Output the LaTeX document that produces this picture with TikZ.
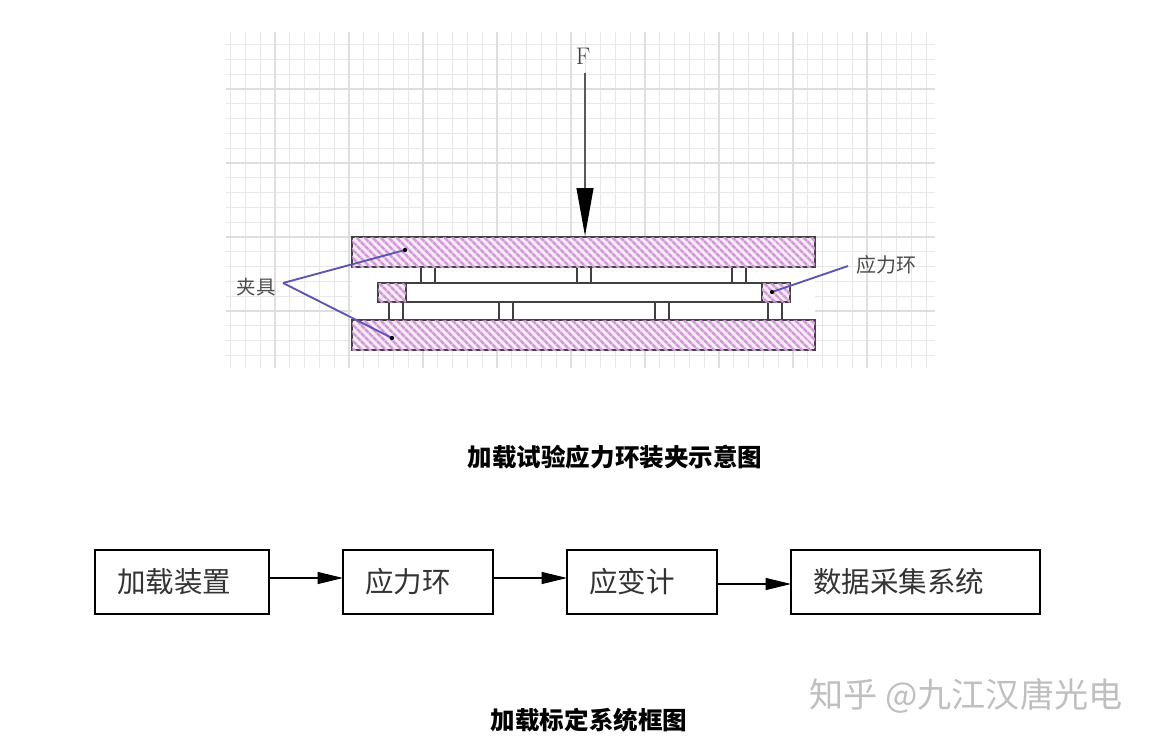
\documentclass[tikz,border=0pt]{standalone}
\usepackage{fontspec}
\usepackage{tikz}
\usetikzlibrary{positioning, arrows.meta, patterns.meta}
\newfontfamily\cjk{Noto Sans CJK SC}
\definecolor{platefill}{HTML}{F8ECF8}
\definecolor{platehatch}{HTML}{D299D8}
\definecolor{leadblue}{HTML}{5C55B4}

\begin{document}
\begin{tikzpicture}[x=0.75pt, y=-0.75pt, node distance=55.5pt,
    every node/.style={font=\cjk, outer sep=0pt},
    minorline/.style={draw=black!9, line width=0.6pt},
    majorline/.style={draw=black!13, line width=0.9pt},
    hatched/.style={draw=black!75, line width=1.1pt, fill=platefill, inner sep=0pt,
      postaction={pattern={Lines[angle=-45, distance=4pt, line width=2.1pt]}, pattern color=platehatch}},
    plate/.style={hatched, rectangle, minimum width=347.25pt, minimum height=22.5pt},
    ringbox/.style={hatched, rectangle, minimum width=21pt, minimum height=14.25pt},
    spacer/.style={rectangle, draw=black!75, line width=1.3pt, fill=white, minimum width=10.5pt, inner sep=0pt, minimum height=12pt},
    lowspacer/.style={spacer, minimum height=13.5pt},
    midbar/.style={rectangle, draw=black!75, line width=1.3pt, fill=white, minimum width=267pt, minimum height=14.25pt, inner sep=0pt},
    leader/.style={draw=leadblue, line width=1.4pt},
    tagtext/.style={font=\cjk\fontsize{14.6}{16}\selectfont, text=black!70, inner sep=0pt},
    flowbox/.style={rectangle, draw, line width=1.2pt, minimum height=48pt, inner xsep=16.5pt, inner ysep=0pt, align=left,
      font=\cjk\fontsize{21.4}{24}\selectfont, text=black!80},
    arrow/.style={-{Triangle[length=19pt, width=9pt]}, line width=0.8pt},
    title/.style={font=\cjk\bfseries\fontsize{18.4}{22}\selectfont, inner sep=0pt}]

  \useasboundingbox (0,0) rectangle (1152,742);
  \fill[white] (0,0) rectangle (1152,742);

  \foreach \i in {0,...,47} {
    \draw[minorline] ({230.6+14.8*\i},32) -- ({230.6+14.8*\i},368);
  }
  \foreach \j in {0,...,21} {
    \draw[minorline] (226,{44.6+14.8*\j}) -- (935,{44.6+14.8*\j});
  }
  \foreach \i in {275,349,423,497,571,645,719,793,867} {
    \draw[majorline] (\i,32) -- (\i,368);
  }
  \foreach \j in {89,163,237,311} {
    \draw[majorline] (226,\j) -- (935,\j);
  }

  \fill[white] (352,267) rectangle (815,320);

  \node[spacer] (sa) at (428,275) {};
  \node[spacer] (sb) at (584,275) {};
  \node[spacer] (sc) at (739,275) {};
  \node[lowspacer] (sd) at (396,311) {};
  \node[lowspacer] (se) at (506,311) {};
  \node[lowspacer] (sf) at (662,311) {};
  \node[lowspacer] (sg) at (775,311) {};

  \node[plate] (upper) at (583.5,252) {};
  \node[plate] (lower) at (583.5,335) {};
  \node[midbar] (bar) at (584,292.5) {};
  \node[ringbox] (ringl) at (392,292.5) {};
  \node[ringbox] (ringr) at (776,292.5) {};

  \node[font=\rmfamily\fontsize{18}{20}\selectfont, text=black!75, inner sep=0pt] (force) at (583,56) {F};
  \coordinate (forcestart) at (585,73);
  \coordinate (forceend) at (585,236);
  \draw[-{Triangle[length=36pt, width=12.5pt, black]}, draw=black!65, line width=1.6pt] (forcestart) -- (forceend);

  \node[tagtext] (clamp) at (256,287) {夹具};
  \node[tagtext, font=\cjk\fontsize{15}{16}\selectfont] (ringtag) at (886,265) {应力环};
  \coordinate (clampa) at (283,283);
  \coordinate (dota) at (405,250);
  \coordinate (dotb) at (392,338);
  \coordinate (ringa) at (848,266);
  \coordinate (dotc) at (772,292);
  \draw[leader] (clampa) -- (dota);
  \draw[leader] (clampa) -- (dotb);
  \draw[leader] (ringa) -- (dotc);
  \fill[black] (dota) circle (1.6pt);
  \fill[black] (dotb) circle (1.6pt);
  \fill[black] (dotc) circle (1.6pt);

  \node[title] (titlea) at (615,457) {加载试验应力环装夹示意图};

  \node[flowbox, text width=97.5pt, anchor=west] (load) at (95,582) {加载装置};
  \node[flowbox, text width=79.5pt, right=of load] (ring) {应力环};
  \node[flowbox, text width=79.5pt, right=of ring] (gauge) {应变计};
  \node[flowbox, text width=153.75pt, right=of gauge] (daq) {数据采集系统};

  \draw[arrow] ([yshift=3pt]load.east) -- ([yshift=3pt]ring.west);
  \draw[arrow] ([yshift=3pt]ring.east) -- ([yshift=3pt]gauge.west);
  \draw[arrow] ([yshift=-1.5pt]gauge.east) -- ([yshift=-1.5pt]daq.west);

  \node[title] (titleb) at (589,720) {加载标定系统框图};

  \node[font=\cjk\fontsize{25.6}{28}\selectfont, text=black!25, inner sep=0pt] (mark) at (966,696) {知乎 @九江汉唐光电};
\end{tikzpicture}
\end{document}
